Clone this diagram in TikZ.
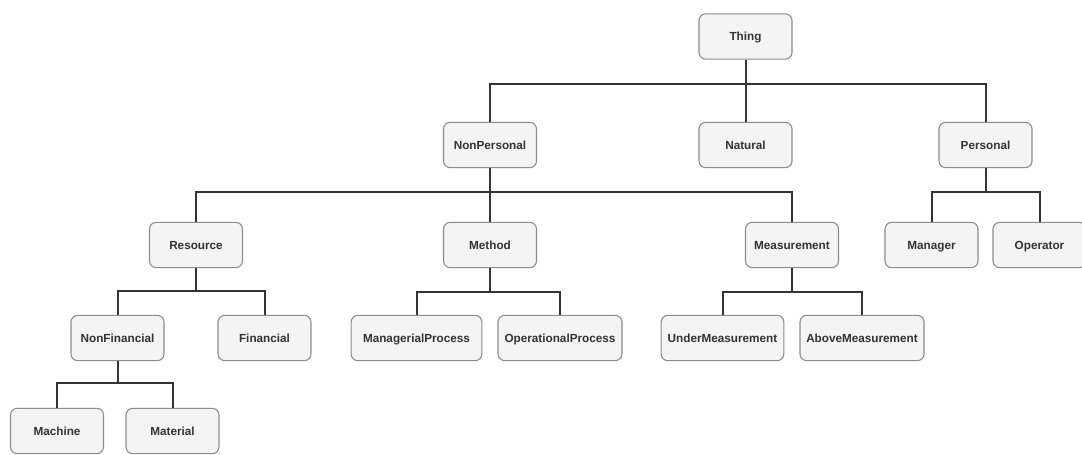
\documentclass[tikz,border=0pt]{standalone}
\usepackage{fontspec}
\setmainfont{Liberation Sans}
\usepackage{tikz}
\usepackage{xcolor}
\definecolor{boxfill}{HTML}{F4F4F4}
\definecolor{boxline}{HTML}{8C8C8C}
\definecolor{ink}{HTML}{333333}

\begin{document}
\begin{tikzpicture}[x=0.75pt, y=-0.75pt,
    box/.style={rectangle, rounded corners=5pt, draw=boxline, line width=0.8pt, fill=boxfill,
        text=ink, font=\fontsize{8.8}{10}\selectfont\bfseries,
        text height=6.3pt, text depth=0pt,
        minimum width=69.75pt, minimum height=34pt, inner sep=0pt},
    link/.style={draw=ink, line width=1.5pt}]
    \useasboundingbox (0,0) rectangle (1082,454);

    % Top level
    \node[box] (thing) at (745.5,36.5) {Thing};

    % Second level
    \node[box] (nonpersonal) at (490,145) {NonPersonal};
    \node[box] (natural) at (745.5,145) {Natural};
    \node[box] (personal) at (985.5,145) {Personal};

    % Third level
    \node[box] (resource) at (196,245) {Resource};
    \node[box] (method) at (490,245) {Method};
    \node[box] (measurement) at (792,245) {Measurement};
    \node[box] (manager) at (931.5,245) {Manager};
    \node[box] (operator) at (1039.5,245) {Operator};

    % Fourth level
    \node[box] (nonfinancial) at (117.5,338) {NonFinancial};
    \node[box] (financial) at (264.5,338) {Financial};
    \node[box, minimum width=98pt] (managerial) at (416.5,338) {ManagerialProcess};
    \node[box, minimum width=93pt] (operational) at (560,338) {OperationalProcess};
    \node[box, minimum width=92pt] (under) at (722.5,338) {UnderMeasurement};
    \node[box, minimum width=93pt] (above) at (862,338) {AboveMeasurement};

    % Fifth level
    \node[box] (machine) at (57,431) {Machine};
    \node[box] (material) at (172.5,431) {Material};

    % Elbow connectors
    \draw[link] (thing.south) -- ++(0,24) -| (nonpersonal.north);
    \draw[link] (thing.south) -- ++(0,24) -| (natural.north);
    \draw[link] (thing.south) -- ++(0,24) -| (personal.north);

    \draw[link] (nonpersonal.south) -- ++(0,23.5) -| (resource.north);
    \draw[link] (nonpersonal.south) -- ++(0,23.5) -| (method.north);
    \draw[link] (nonpersonal.south) -- ++(0,23.5) -| (measurement.north);
    \draw[link] (personal.south) -- ++(0,23.5) -| (manager.north);
    \draw[link] (personal.south) -- ++(0,23.5) -| (operator.north);

    \draw[link] (resource.south) -- ++(0,23) -| (nonfinancial.north);
    \draw[link] (resource.south) -- ++(0,23) -| (financial.north);
    \draw[link] (method.south) -- ++(0,23.5) -| (managerial.north);
    \draw[link] (method.south) -- ++(0,23.5) -| (operational.north);
    \draw[link] (measurement.south) -- ++(0,23.5) -| (under.north);
    \draw[link] (measurement.south) -- ++(0,23.5) -| (above.north);

    \draw[link] (nonfinancial.south) -- ++(0,22) -| (machine.north);
    \draw[link] (nonfinancial.south) -- ++(0,22) -| (material.north);
\end{tikzpicture}
\end{document}
